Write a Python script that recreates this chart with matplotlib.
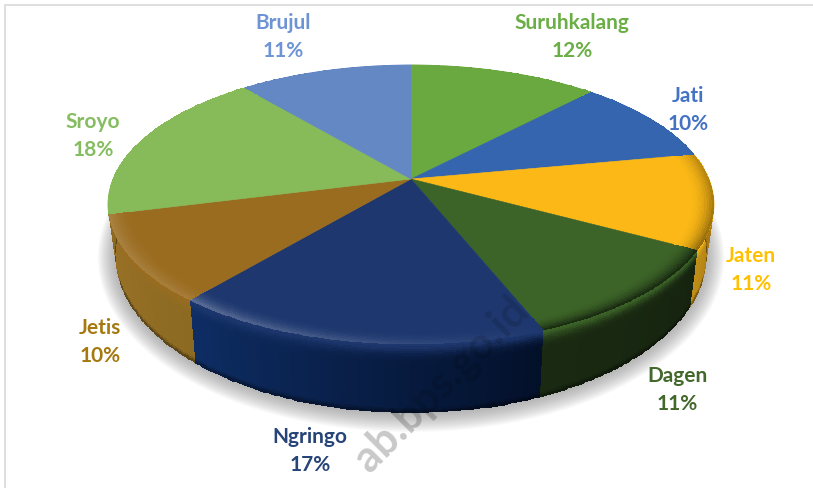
import numpy as np
import matplotlib
matplotlib.use("Agg")
import matplotlib.pyplot as plt
from matplotlib.patches import Polygon

categories = ["Suruhkalang", "Jati", "Jaten", "Dagen", "Ngringo", "Jetis", "Sroyo", "Brujul"]
values = [12, 10, 11, 11, 17, 10, 18, 11]
top_colors = ["#6aa940", "#3565ae", "#fbb816", "#3c6428", "#1e386f", "#9a6c20", "#87bb5a", "#6488c4"]
wall_start = ["#4c7a2e", "#264a80", "#8a6212", "#16240f", "#03102a", "#8c6a22", "#8c6a22", "#46638f"]
wall_end = ["#4c7a2e", "#264a80", "#c08e18", "#1a2a12", "#0e2d64", "#9a7226", "#8c6a22", "#46638f"]
rim_start = [0.0, 0.0, -0.25, -0.6, 0.0, 0.12, 0.0, 0.0]
rim_end = [0.0, 0.0, -0.45, -0.6, 0.28, 0.16, 0.0, 0.0]
label_colors = ["#6aae45", "#4472c4", "#ffc000", "#43682b", "#264478", "#a5790f", "#85bd60", "#6f94d6"]
label_xy = [(572, 37), (688, 110), (751, 270), (677, 390), (310, 451), (100, 342), (93, 136), (283, 37)]
watermark = "ab.bps.go.id"

W, H = 813, 489
CX, CY, A, B, K = 411.0, 180.0, 298.0, 135.0, 0.183
S_X, S_Y, D = 0.975, 1.13, 47.0


def top_rim(phi):
    X, Y = np.sin(phi), np.cos(phi)
    den = 1 + K * Y
    return CX + A * X / den, CY - B * Y / den


def bottom_rim(phi):
    x, y = top_rim(phi)
    return CX + S_X * (x - CX), CY + D + S_Y * (y - CY)


def rgb(h):
    return np.array(matplotlib.colors.to_rgb(h))


fig = plt.figure(figsize=(W / 100, H / 100), dpi=100)
ax = fig.add_axes([0, 0, 1, 1])
ax.set_xlim(0, W)
ax.set_ylim(H, 0)
ax.axis("off")

# frame
ax.plot([4.5, 4.5, W], [H, 5.5, 5.5], color="#dcdcdc", lw=1.3, zorder=1, solid_joinstyle="miter")

# watermark under the pie
WM = dict(rotation=45, ha="center", va="center", fontsize=31, family="Lato", weight="bold",
          rotation_mode="anchor")
ax.text(441, 384, watermark, color="#e6e6e6", zorder=1.5, **WM)

# soft shadow
ang = np.linspace(0, 2 * np.pi, 361)
bx, by = bottom_rim(ang)
for grow in np.linspace(18, 0, 19):
    sx = CX + (bx - CX) * (1 + grow / 300)
    sy = 240 + (by - 240) * (1 + grow / 170) + 1
    ax.add_patch(Polygon(np.c_[sx, sy], closed=True, fc="#808080", ec="none", alpha=0.04, zorder=2))

# wedges: walls first, then the top
edges = np.cumsum([0] + values) / sum(values) * 2 * np.pi
for i in range(len(values)):
    phi = np.linspace(edges[i], edges[i + 1], 60)
    tx, ty = top_rim(phi)
    bx, by = bottom_rim(phi)
    t = np.linspace(0, 1, 31)
    X = np.outer(1 - t, tx) + np.outer(t, bx)
    Y = np.outer(1 - t, ty) + np.outer(t, by)
    tc = (t[:-1] + t[1:]) / 2
    u = np.linspace(0, 1, len(phi) - 1)[None, :, None]
    wall = rgb(wall_start[i]) * (1 - u) + rgb(wall_end[i]) * u
    lip = np.exp(-(tc / 0.13) ** 2)[:, None, None]
    foot = (1 - 0.45 * np.clip((tc - 0.93) / 0.07, 0, 1))[:, None, None]
    C = (wall * (1 - lip) + rgb(top_colors[i]) * lip) * foot
    ax.pcolormesh(X, Y, np.clip(C, 0, 1), shading="flat", antialiased=False, zorder=3)

for i in range(len(values)):
    phi = np.linspace(edges[i], edges[i + 1], 120)
    tx, ty = top_rim(phi)
    ax.add_patch(Polygon(np.r_[[[CX, CY]], np.c_[tx, ty]], closed=True, fc=top_colors[i],
                         ec=top_colors[i], lw=0.4, zorder=4))
    # bevel band along the rim: positive amounts lighten, negative amounts darken
    r = np.linspace(0.92, 1.0, 11)
    rc = (r[:-1] + r[1:]) / 2
    Xm = np.outer(r, tx - CX) + CX
    Ym = np.outer(r, ty - CY) + CY
    u = np.linspace(0, 1, len(phi) - 1)
    amt = np.outer(((rc - 0.92) / 0.08) ** 2, rim_start[i] * (1 - u) + rim_end[i] * u)[..., None]
    base = rgb(top_colors[i])
    mixed = np.where(amt >= 0, base + (1 - base) * amt, base * (1 + amt))
    ax.pcolormesh(Xm, Ym, np.clip(mixed, 0, 1), shading="flat", antialiased=False, zorder=5)

# faint watermark over the pie only
fx, fy = bottom_rim(np.linspace(0, 2 * np.pi, 361))
over = ax.text(441, 384, watermark, color="#000000", alpha=0.13, zorder=6, **WM)
over.set_clip_path(Polygon(np.c_[fx, fy], closed=True, transform=ax.transData))

# labels
for name, v, c, (x, y) in zip(categories, values, label_colors, label_xy):
    ax.text(x, y, f"{name}\n{v}%", ha="center", va="center", color=c, family="Lato",
            weight="bold", fontsize=15, linespacing=1.45, zorder=7)

fig.savefig("out.png", dpi=100)
